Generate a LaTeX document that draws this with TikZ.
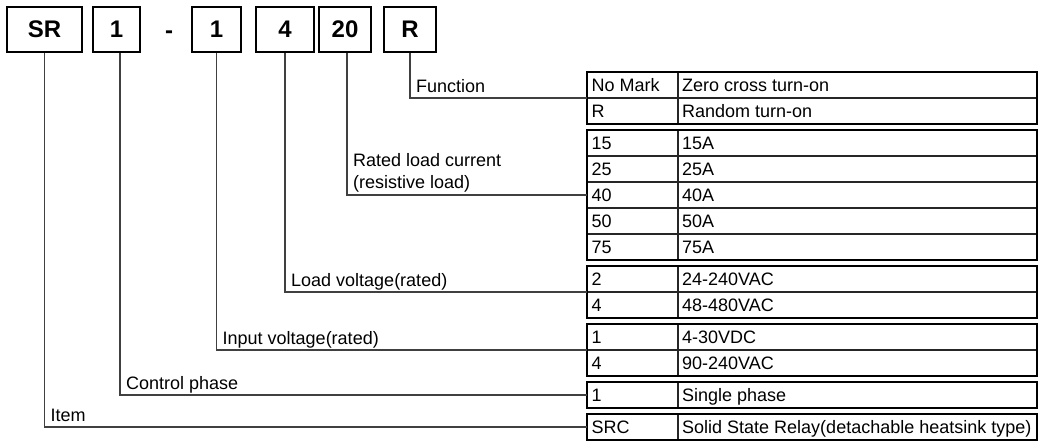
\documentclass[tikz,border=0pt]{standalone}
\usepackage{fontspec}
\setmainfont{Liberation Sans}
\usepackage{tikz}

\begin{document}
\begin{tikzpicture}[x=1pt,y=-1pt,
  codebox/.style={draw, line width=1.5pt, minimum height=45pt, inner sep=0pt, font=\fontsize{24}{28}\selectfont\bfseries},
  lead/.style={draw=black!75, line width=1.3pt},
  lbl/.style={anchor=base west, inner sep=0pt, xshift=6pt, yshift=6pt, align=left, font=\fontsize{18}{22}\selectfont},
  cell/.style={draw=black!85, line width=1.1pt},
  grp/.style={draw, line width=1.8pt},
  txt/.style={anchor=base west, inner sep=0pt, font=\fontsize{18}{22}\selectfont}]

\useasboundingbox (0,0) rectangle (1042,442);

% code boxes
\node[codebox, minimum width=75pt] (sr) at (44.5,29.5) {SR};
\node[codebox, minimum width=47pt] (ctl) at (116.5,29.5) {1};
\node[anchor=base, inner sep=0pt, font=\fontsize{24}{28}\selectfont\bfseries] (dash) at (169,38.5) {-};
\node[codebox, minimum width=49pt] (inp) at (216.5,29.5) {1};
\node[codebox, minimum width=58pt] (load) at (285,29.5) {4};
\node[codebox, minimum width=52pt] (amp) at (345,29.5) {20};
\node[codebox, minimum width=52pt] (fnc) at (410,29.5) {R};

% table
\foreach \t/\a/\b [count=\i] in {72/No Mark/Zero cross turn-on, 98/R/Random turn-on,
  130/15/15A, 156/25/25A, 182/40/40A, 208/50/50A, 234/75/75A,
  266/2/24-240VAC, 292/4/48-480VAC, 324/1/4-30VDC, 350/4/90-240VAC,
  382/1/Single phase, 414/SRC/Solid State Relay(detachable heatsink type)}
{
  \draw[cell] (587,\t) rectangle (678,\t+26);
  \draw[cell] (678,\t) rectangle (1037,\t+26);
  \node[txt] (key\i) at (591.5,\t+19.5) {\a};
  \node[txt] (val\i) at (682,\t+19.5) {\b};
}
\foreach \t/\b in {72/124, 130/260, 266/318, 324/376, 382/408, 414/440}
  \draw[grp] (587,\t) rectangle (1037,\b);

% group entries
\coordinate (fn) at (587,98);
\coordinate (cur) at (587,195);
\coordinate (lv) at (587,292);
\coordinate (iv) at (587,350);
\coordinate (cp) at (587,395);
\coordinate (it) at (587,427);

% leaders
\draw[lead] (fnc.south) |- (fn);
\draw[lead] ([xshift=2pt]amp.south) |- (cur);
\draw[lead] (load.south) |- (lv);
\draw[lead] (inp.south) |- (iv);
\draw[lead] ([xshift=3.5pt]ctl.south) |- (cp);
\draw[lead] (sr.south) |- (it);

% labels
\node[lbl] (fnlbl) at (fnc.south |- fn) {Function};
\node[lbl, yshift=1pt] (curlbl) at ([xshift=2pt]amp.south |- cur) {Rated load current\\(resistive load)};
\node[lbl] (lvlbl) at (load.south |- lv) {Load voltage(rated)};
\node[lbl] (ivlbl) at (inp.south |- iv) {Input voltage(rated)};
\node[lbl] (cplbl) at ([xshift=3.5pt]ctl.south |- cp) {Control phase};
\node[lbl] (itlbl) at (sr.south |- it) {Item};
\end{tikzpicture}
\end{document}
